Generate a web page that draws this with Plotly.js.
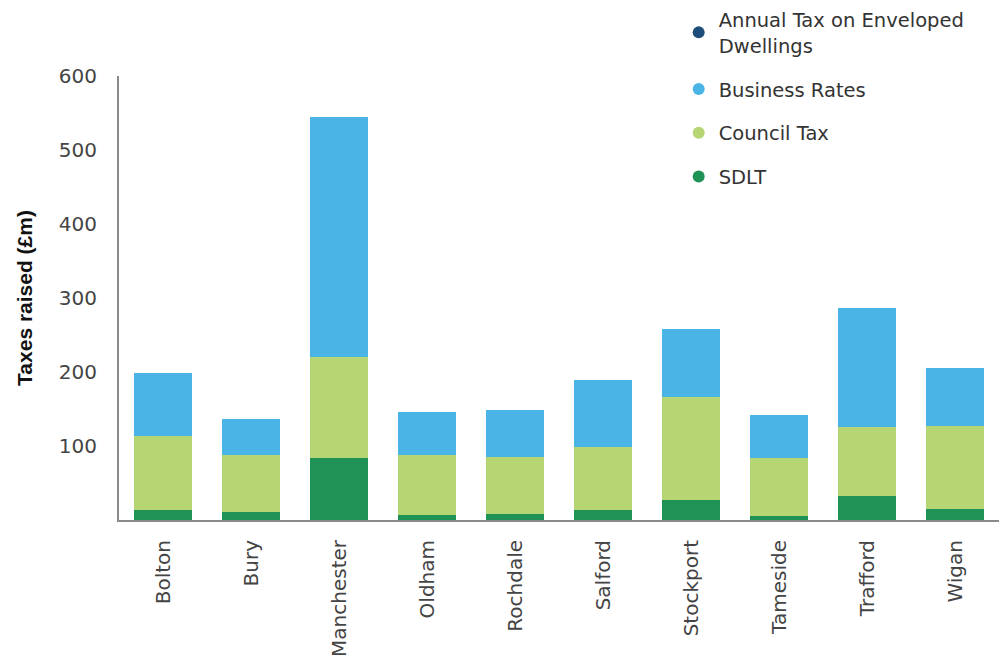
<!DOCTYPE html>
<html><head><meta charset="utf-8">
<script src="https://cdn.plot.ly/plotly-3.0.1.min.js"></script>
<style>html,body{margin:0;padding:0;background:#fff;}#chart{width:999px;height:663px;}</style>
</head><body><div id="chart"></div>
<script>
const categories = ["Bolton","Bury","Manchester","Oldham","Rochdale","Salford","Stockport","Tameside","Trafford","Wigan"];
const sdlt = [13.5, 11, 84, 7, 8, 13.5, 27, 5, 32, 15];
const councilTax = [100, 77, 136, 81, 77, 85.5, 139, 79, 94, 112];
const businessRates = [85.5, 48.5, 324.5, 58, 64, 90, 92, 58, 160.5, 78];
const ated = [0.2, 0.1, 0.5, 0.1, 0.1, 0.2, 0.3, 0.1, 0.4, 0.1];
const yTicks = [100, 200, 300, 400, 500, 600];
const seriesNames = ["Annual Tax on Enveloped<br>Dwellings", "Business Rates", "Council Tax", "SDLT"];
const colors = ["#1d4e7a", "#4bb4e6", "#b5d673", "#1f9355"];

const barSeries = [
  {name: seriesNames[3], y: sdlt, color: colors[3]},
  {name: seriesNames[2], y: councilTax, color: colors[2]},
  {name: seriesNames[1], y: businessRates, color: colors[1]},
  {name: seriesNames[0], y: ated, color: colors[0]}
];
const traces = barSeries.map(s => ({
  type: "bar", x: categories, y: s.y, name: s.name,
  marker: {color: s.color, line: {width: 0}}, showlegend: false, hoverinfo: "x+y+name"
}));
seriesNames.forEach((n, i) => {
  traces.push({type: "scatter", mode: "markers", x: [null], y: [null], name: n,
    legendgroup: "g" + i,
    marker: {symbol: "circle", size: 12, color: colors[i]}, showlegend: true});
});

const layout = {
  width: 999, height: 663,
  margin: {l: 119, r: 0, t: 76, b: 143},
  paper_bgcolor: "#fff", plot_bgcolor: "#fff",
  barmode: "stack", bargap: 0.35,
  font: {family: "DejaVu Sans, sans-serif", size: 20, color: "#444"},
  xaxis: {
    type: "category", showgrid: false, zeroline: false,
    showline: true, linecolor: "#8a8a8a", linewidth: 2,
    ticks: "", tickangle: -90, ticklabelstandoff: 10,
    tickfont: {family: "DejaVu Sans, sans-serif", size: 20, color: "#444"}
  },
  yaxis: {
    range: [0, 600], tickvals: yTicks, showgrid: false, zeroline: false,
    showline: true, linecolor: "#8a8a8a", linewidth: 2,
    ticks: "", ticklabelstandoff: 16,
    tickfont: {family: "DejaVu Sans, sans-serif", size: 20, color: "#444"},
    title: {text: "<b>Taxes raised (£m)</b>", font: {family: "Liberation Sans, Arial, sans-serif", size: 21, color: "#111"}, standoff: 20}
  },
  legend: {
    x: 0.636, y: 1.17, xanchor: "left", yanchor: "top",
    traceorder: "grouped", tracegroupgap: 15.5,
    font: {family: "DejaVu Sans, sans-serif", size: 19.5, color: "#333"}, itemsizing: "constant",
    bgcolor: "rgba(0,0,0,0)", itemwidth: 30
  }
};
Plotly.newPlot("chart", traces, layout, {displayModeBar: false, staticPlot: true});
</script></body></html>
